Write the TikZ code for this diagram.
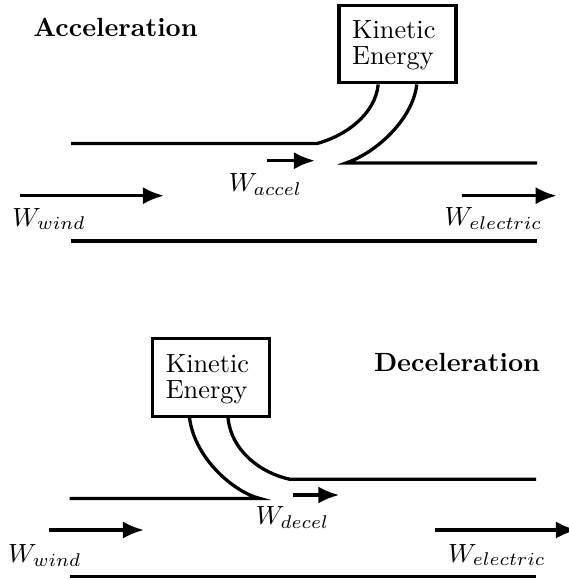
\documentclass[tikz,border=0pt]{standalone}
\usepackage{tikz}
\usetikzlibrary{arrows.meta, calc, positioning}

\tikzset{
  pipe/.style={line width=1.25pt},
  flow/.style={line width=1.25pt,-{Latex[length=8pt,width=6.5pt]}},
  kebox/.style={draw,line width=1.25pt,text width=34.5pt,inner xsep=5pt,minimum height=29.5pt,align=left},
  headline/.style={font=\bfseries,anchor=base},
}

\begin{document}
\begin{tikzpicture}[x=0.38pt,y=-0.38pt]
  \useasboundingbox (0,0) rectangle (568,580);

  % acceleration
  \node[headline] (acc) at (115.5,36) {Acceleration};
  \node[kebox] (keA) at (397.5,44) {\rule{0pt}{8pt}Kinetic\\[-2.1pt]Energy};
  \draw[pipe] (71,143.5) -- (317,143.5) .. controls (345,136) and (375,115) .. ($(keA.south west)!0.34!(keA.south east)$);
  \draw[pipe] ($(keA.south west)!0.66!(keA.south east)$) .. controls (413,118) and (378,152) .. (346,163) -- (537,163);
  \draw[pipe] (71,241) -- (537,241);

  \coordinate (windA0) at (20,195.7);
  \coordinate (windA1) at (164,195.7);
  \coordinate (accA0) at (266.7,160.7);
  \coordinate (accA1) at (315,160.7);
  \coordinate (elecA0) at (461.7,195.7);
  \coordinate (elecA1) at (556.7,195.7);
  \draw[flow] (windA0) -- (windA1);
  \draw[flow] (accA0) -- (accA1);
  \draw[flow] (elecA0) -- (elecA1);
  \node (windAlbl) at (49,219) {$W_{wind}$};
  \node (accAlbl) at (265.4,184.5) {$W_{accel}$};
  \node (elecAlbl) at (493.3,218.5) {$W_{electric}$};

  % deceleration
  \node[headline] (dec) at (457,371.7) {Deceleration};
  \node[kebox] (keD) at (211.2,377.5) {\rule{0pt}{8pt}Kinetic\\[-2.1pt]Energy};
  \draw[pipe] (69.5,498.5) -- (260,498.5) .. controls (236,493) and (195,460) .. ($(keD.south west)!0.32!(keD.south east)$);
  \draw[pipe] ($(keD.south west)!0.64!(keD.south east)$) .. controls (231,450) and (260,473) .. (290,479.3) -- (536,479.3);
  \draw[pipe] (69.5,576.7) -- (536,576.7);

  \coordinate (windD0) at (49.3,530);
  \coordinate (windD1) at (144,530);
  \coordinate (decD0) at (292.7,495);
  \coordinate (decD1) at (339.3,495);
  \coordinate (elecD0) at (435,530);
  \coordinate (elecD1) at (577,530);
  \draw[flow] (windD0) -- (windD1);
  \draw[flow] (decD0) -- (decD1);
  \draw[flow] (elecD0) -- (elecD1);
  \node (windDlbl) at (44.7,555.5) {$W_{wind}$};
  \node (decDlbl) at (292.5,517.5) {$W_{decel}$};
  \node (elecDlbl) at (496.8,555) {$W_{electric}$};
\end{tikzpicture}
\end{document}
